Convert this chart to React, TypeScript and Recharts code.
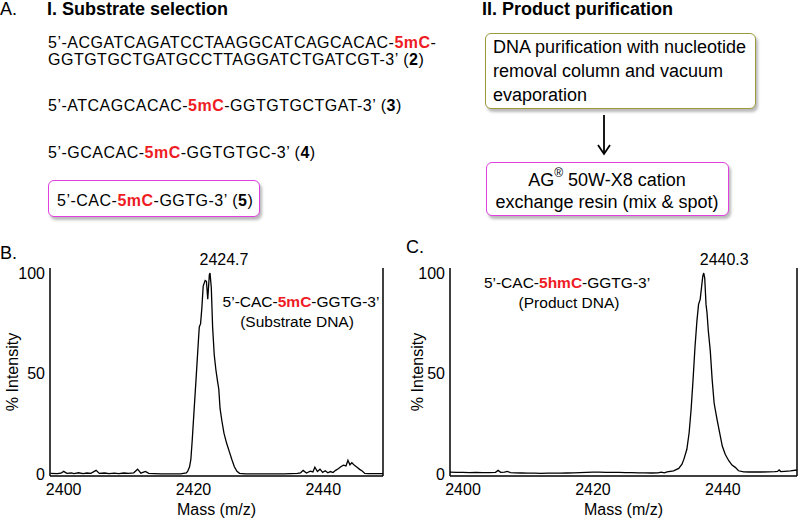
import type { ReactNode } from "react";
import {
  Label,
  Line,
  LineChart,
  ReferenceDot,
  ReferenceLine,
  XAxis,
  YAxis,
} from "recharts";

const FONT = '"Liberation Sans", Arial, Helvetica, sans-serif';
const RED = "#ee1c25";
const MAGENTA = "#e040e0";
const OLIVE = "#9c9a3c";

// shared axis ticks
const massTicks = [2400, 2420, 2440];
const intensityTicks = [0, 50, 100];

// B. substrate 5'-CAC-5mC-GGTG-3'
const substrateMass = [
  2398.0, 2399.0, 2399.6, 2400.0, 2400.5, 2401.2, 2401.6, 2402.3, 2403.0, 2403.6,
  2404.2, 2405.0, 2405.5, 2406.3, 2407.0, 2407.8, 2408.5, 2409.3, 2410.0, 2410.8,
  2411.4, 2411.9, 2412.6, 2413.1, 2414.0, 2415.0, 2416.0, 2417.0, 2418.0, 2418.9,
  2419.1, 2419.4, 2419.6, 2419.8, 2420.05, 2420.4, 2420.8, 2420.9, 2421.1, 2421.3,
  2421.5, 2421.8, 2422.0, 2422.2, 2422.45, 2422.55, 2422.75, 2422.95, 2423.2, 2423.45,
  2423.7, 2423.9, 2424.1, 2424.4, 2424.7, 2425.1, 2425.5, 2425.9, 2426.3, 2426.7,
  2427.1, 2428.0, 2429.0, 2430.0, 2431.0, 2432.0, 2433.0, 2434.0, 2435.0, 2436.0,
  2436.5, 2436.9, 2437.4, 2438.0, 2438.4, 2438.7, 2439.1, 2439.5, 2439.9, 2440.3,
  2440.7, 2441.1, 2441.5, 2441.9, 2442.3, 2442.7, 2443.1, 2443.5, 2443.8, 2444.1,
  2444.4, 2444.8, 2445.2, 2445.6, 2446.0, 2446.4, 2447.0, 2448.0, 2449.2,
];
const substrateIntensity = [
  0.3, 0.2, 0.4, 1.3, 0.3, 0.5, 0.2, 0.6, 0.2, 0.5,
  0.3, 1.8, 0.3, 0.5, 0.2, 0.4, 0.2, 0.5, 0.3, 0.6,
  2.4, 0.4, 1.3, 0.3, 0.2, 0.1, 0.1, 0.1, 0.1, 0.5,
  1.3, 3.6, 7.3, 16.3, 29.3, 47.2, 68.3, 73.2, 74.8, 82.9,
  93.5, 96.3, 95.9, 87.0, 99.2, 100, 92.7, 73.2, 59.3, 52.0,
  46.3, 42.3, 32.5, 26.0, 20.3, 15.4, 11.4, 7.3, 3.6, 1.3,
  0.3, 0.1, 0.1, 0.1, 0.1, 0.1, 0.1, 0.1, 0.2, 0.3,
  0.6, 1.8, 0.5, 1.4, 1.0, 3.4, 1.2, 2.4, 0.8, 1.6,
  0.6, 1.2, 0.7, 1.8, 2.6, 3.6, 4.4, 4.0, 6.8, 4.6,
  5.6, 4.3, 3.4, 2.3, 1.5, 0.3, 0.2, 0.2, 0.2,
];

// C. product 5'-CAC-5hmC-GGTG-3'
const productMass = [
  2398.0, 2399.0, 2400.0, 2401.0, 2402.0, 2403.0, 2404.0, 2405.0, 2405.4, 2405.8,
  2406.4, 2406.8, 2407.3, 2408.0, 2409.0, 2410.0, 2411.0, 2412.0, 2413.0, 2414.0,
  2415.0, 2416.0, 2417.0, 2418.0, 2419.0, 2420.0, 2421.0, 2422.0, 2423.0, 2424.0,
  2425.0, 2426.0, 2427.0, 2428.0, 2429.0, 2430.0, 2430.5, 2431.0, 2431.4, 2432.4,
  2433.2, 2433.7, 2434.0, 2434.45, 2434.8, 2435.1, 2435.4, 2435.7, 2436.0, 2436.25,
  2436.5, 2436.7, 2436.9, 2437.05, 2437.2, 2437.4, 2437.55, 2437.75, 2438.05, 2438.35,
  2438.65, 2439.1, 2439.5, 2439.9, 2440.35, 2440.9, 2441.4, 2441.9, 2442.4, 2443.2,
  2444.0, 2445.0, 2446.0, 2447.0, 2448.0, 2448.4, 2448.65, 2448.9, 2449.5, 2450.4, 2451.4,
];
const productIntensity = [
  0.9, 0.8, 0.8, 0.7, 0.8, 0.7, 0.7, 0.8, 1.8, 0.8,
  0.9, 1.3, 0.7, 0.6, 0.5, 0.4, 0.4, 0.3, 0.4, 0.4,
  0.4, 0.5, 0.6, 0.7, 0.8, 0.9, 0.9, 0.8, 0.8, 0.8,
  0.7, 0.7, 0.6, 0.6, 0.5, 0.6, 0.9, 0.6, 1.0, 1.6,
  2.8, 4.9, 7.4, 12.3, 20.5, 32.0, 46.7, 63.1, 76.2, 84.4,
  86.9, 92.6, 98.4, 100, 97.5, 84.4, 80.3, 71.3, 61.5, 46.7,
  35.2, 27.0, 20.5, 13.9, 9.8, 6.6, 4.4, 3.3, 1.6, 1.1,
  1.0, 1.1, 1.0, 1.1, 1.2, 1.3, 2.0, 1.2, 1.3, 1.5, 2.0,
];

const substrateData = substrateMass.map((mass, i) => ({ mass, intensity: substrateIntensity[i] }));
const productData = productMass.map((mass, i) => ({ mass, intensity: productIntensity[i] }));

type SpectrumProps = {
  data: { mass: number; intensity: number }[];
  xDomain: [number, number];
  peak: number;
  peakLabel: string;
  marginRight: number;
  yLabelOffset: number;
};

const axisStyle = { stroke: "#000", strokeWidth: 1.5 };
const tickStyle = { fill: "#000", fontSize: 16, fontFamily: FONT };

const Spectrum = ({ data, xDomain, peak, peakLabel, marginRight, yLabelOffset }: SpectrumProps) => (
  <LineChart
    width={400}
    height={281}
    data={data}
    margin={{ top: 28, right: marginRight, bottom: 3, left: 10 }}
  >
    <XAxis
      type="number"
      dataKey="mass"
      domain={xDomain}
      ticks={massTicks}
      allowDataOverflow
      tickLine={false}
      tickSize={0}
      tickMargin={8}
      height={42}
      axisLine={axisStyle}
      tick={tickStyle}
    >
      <Label value="Mass (m/z)" position="insideBottom" offset={3} fill="#000" fontSize={16} fontFamily={FONT} />
    </XAxis>
    <YAxis
      type="number"
      domain={[-1, 102.5]}
      ticks={intensityTicks}
      allowDataOverflow
      tickLine={false}
      tickSize={0}
      tickMargin={5}
      width={40}
      axisLine={axisStyle}
      tick={tickStyle}
    >
      <Label
        value="% Intensity"
        angle={-90}
        position="insideLeft"
        offset={yLabelOffset}
        fill="#000"
        fontSize={16}
        fontFamily={FONT}
        style={{ textAnchor: "middle" }}
      />
    </YAxis>
    <ReferenceLine x={xDomain[1]} stroke="#000" strokeWidth={1.5} />
    <Line
      type="linear"
      dataKey="intensity"
      stroke="#000"
      strokeWidth={1.3}
      dot={false}
      isAnimationActive={false}
    />
    <ReferenceDot
      x={peak}
      y={100}
      r={0}
      stroke="none"
      label={{ value: peakLabel, position: "top", offset: 8, fill: "#000", fontSize: 16, fontFamily: FONT }}
    />
  </LineChart>
);

type TextProps = {
  x: number;
  y: number;
  size?: number;
  bold?: boolean;
  center?: boolean;
  spacing?: number;
  children: ReactNode;
};

// y is the vertical middle of the capitals
const T = ({ x, y, size = 16, bold = false, center = false, spacing = 0, children }: TextProps) => (
  <div
    style={{
      position: "absolute",
      left: x,
      top: y - size / 2,
      fontSize: size,
      lineHeight: 1,
      letterSpacing: spacing,
      fontWeight: bold ? "bold" : "normal",
      whiteSpace: "nowrap",
      transform: center ? "translateX(-50%)" : undefined,
    }}
  >
    {children}
  </div>
);

const Mark = ({ children }: { children: ReactNode }) => (
  <b style={{ color: RED }}>{children}</b>
);

const Box = ({ x, y, w, h, color }: { x: number; y: number; w: number; h: number; color: string }) => (
  <div
    style={{
      position: "absolute",
      left: x,
      top: y,
      width: w,
      height: h,
      boxSizing: "border-box",
      border: `1.5px solid ${color}`,
      borderRadius: 6,
      background: "#fff",
      boxShadow: "2px 3px 3px rgba(0,0,0,0.28)",
    }}
  />
);

export default function App() {
  return (
    <div
      style={{
        position: "absolute",
        left: 0,
        top: 0,
        width: 800,
        height: 521,
        overflow: "hidden",
        background: "#fff",
        color: "#000",
        fontFamily: FONT,
      }}
    >
      <div style={{ position: "absolute", left: 0, top: 240 }}>
        <Spectrum
          data={substrateData}
          xDomain={[2397.9, 2449.2]}
          peak={2424.7}
          peakLabel="2424.7"
          marginRight={17}
          yLabelOffset={2}
        />
      </div>
      <div style={{ position: "absolute", left: 400, top: 240 }}>
        <Spectrum
          data={productData}
          xDomain={[2398, 2451.4]}
          peak={2440.2}
          peakLabel="2440.3"
          marginRight={3}
          yLabelOffset={7}
        />
      </div>

      {/* A. substrate selection */}
      <T x={0} y={9} size={18}>A.</T>
      <T x={47} y={9} size={18} bold>I. Substrate selection</T>
      <T x={48} y={43} spacing={0.5}>
        5’-ACGATCAGATCCTAAGGCATCAGCACAC-<Mark>5mC</Mark>-
      </T>
      <T x={48} y={60} spacing={0.5}>
        GGTGTGCTGATGCCTTAGGATCTGATCGT-3’ (<b>2</b>)
      </T>
      <T x={48} y={106} spacing={0.5}>
        5’-ATCAGCACAC-<Mark>5mC</Mark>-GGTGTGCTGAT-3’ (<b>3</b>)
      </T>
      <T x={48} y={153} spacing={0.5}>
        5’-GCACAC-<Mark>5mC</Mark>-GGTGTGC-3’ (<b>4</b>)
      </T>
      <Box x={48} y={180} w={212} h={37} color={MAGENTA} />
      <T x={57} y={201} spacing={0.5}>
        5’-CAC-<Mark>5mC</Mark>-GGTG-3’ (<b>5</b>)
      </T>

      {/* II. product purification */}
      <T x={482} y={9} size={18} bold>II. Product purification</T>
      <Box x={485} y={33} w={271} h={76} color={OLIVE} />
      <T x={493} y={47} size={18}>DNA purification with nucleotide</T>
      <T x={493} y={71} size={18}>removal column and vacuum</T>
      <T x={493} y={95} size={18}>evaporation</T>
      <svg
        style={{ position: "absolute", left: 596, top: 113 }}
        width={16}
        height={44}
      >
        <line x1={8} y1={2} x2={8} y2={40} stroke="#000" strokeWidth={1.8} />
        <polyline points="2,32 8,41 14,32" fill="none" stroke="#000" strokeWidth={1.8} />
      </svg>
      <Box x={486} y={162} w={243} h={54} color={MAGENTA} />
      <T x={607} y={180} size={18} center>
        AG<sup style={{ fontSize: 12, lineHeight: 0, position: "relative", top: -2 }}>®</sup> 50W-X8 cation
      </T>
      <T x={607} y={202} size={18} center>exchange resin (mix &amp; spot)</T>

      {/* B / C panel letters and notes */}
      <T x={0} y={253} size={18}>B.</T>
      <T x={406} y={247} size={18}>C.</T>
      <T x={301} y={302} size={15.5} center>
        5’-CAC-<Mark>5mC</Mark>-GGTG-3’
      </T>
      <T x={297} y={322} size={15.5} center>(Substrate DNA)</T>
      <T x={567} y={283} size={15.5} center>
        5’-CAC-<Mark>5hmC</Mark>-GGTG-3’
      </T>
      <T x={569} y={303} size={15.5} center>(Product DNA)</T>
    </div>
  );
}
